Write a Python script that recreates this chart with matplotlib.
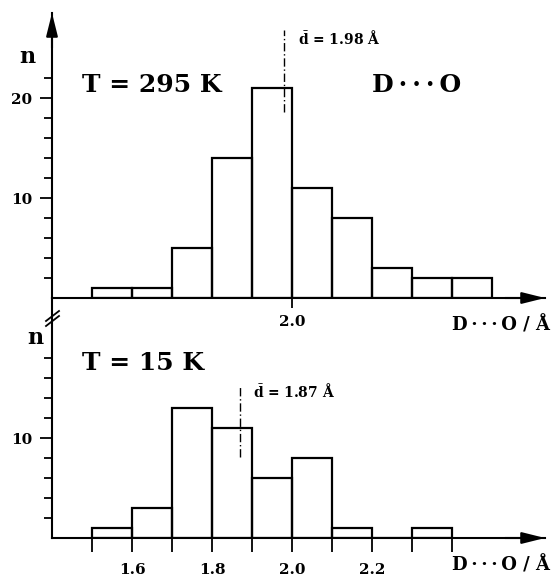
import numpy as np
import matplotlib
matplotlib.use("Agg")
from matplotlib import pyplot as plt

plt.rcParams['font.family'] = ['DejaVu Serif']
plt.rcParams['font.weight'] = 'bold'
plt.rcParams['mathtext.fontset'] = 'dejavuserif'

# bin left edges and counts, D...O distances in Angstrom
bins_295 = [1.5, 1.6, 1.7, 1.8, 1.9, 2.0, 2.1, 2.2, 2.3, 2.4]
n_295 = [1, 1, 5, 14, 21, 11, 8, 3, 2, 2]
mean_295 = 1.98

bins_15 = [1.5, 1.6, 1.7, 1.8, 1.9, 2.0, 2.1, 2.2, 2.3]
n_15 = [1, 3, 13, 11, 6, 8, 1, 0, 1]
mean_15 = 1.87

W, H = 553, 579
fig = plt.figure(figsize=(W / 100, H / 100), dpi=100)
fig.patch.set_facecolor('white')

def fx(px):
    return px / W

def fy(py):
    return 1 - py / H

def ptext(px, py, s, **kw):
    fig.text(fx(px), fy(py), s, **kw)

xl = (1.4, 1.4 + (545 - 52) / 400)
ax1 = fig.add_axes([fx(52), fy(298), (545 - 52) / W, (298 - 13) / H])
ax2 = fig.add_axes([fx(52), fy(538), (545 - 52) / W, (538 - 298) / H])

for ax in (ax1, ax2):
    ax.set_facecolor('none')
    for s in ('top', 'right'):
        ax.spines[s].set_visible(False)
    for s in ('left', 'bottom'):
        ax.spines[s].set_linewidth(1.5)
    ax.set_xlim(*xl)
    ax.tick_params(width=1.3, labelsize=11, pad=5)
    ax.tick_params(axis='y', which='major', length=9)
    ax.tick_params(axis='y', which='minor', length=6, width=1.3)

ax1.bar(bins_295, n_295, width=0.1, align='edge', fill=False,
        edgecolor='black', linewidth=1.6)
ax1.set_ylim(0, 28.5)
ax1.set_yticks([10, 20])
ax1.set_yticks(np.arange(2, 23, 2), minor=True)
ax1.set_xticks([2.0])
ax1.set_xticklabels(['2.0'])
ax1.tick_params(axis='x', direction='inout', length=14, pad=5)

ax2.bar(bins_15, n_15, width=0.1, align='edge', fill=False,
        edgecolor='black', linewidth=1.6)
ax2.set_ylim(0, 24)
ax2.set_yticks([10])
ax2.set_yticks(np.arange(2, 19, 2), minor=True)
ax2.set_xticks(np.arange(1.5, 2.45, 0.1))
ax2.set_xticklabels(['', '1.6', '', '1.8', '', '2.0', '', '2.2', '', ''])
ax2.tick_params(axis='x', length=10, pad=8)

# axis arrows
arr = dict(arrowstyle='-|>,head_length=1.4,head_width=0.35', color='black',
           lw=1.5, shrinkA=0, shrinkB=0)
ax1.annotate('', xy=(1.4, 28.5), xytext=(1.4, 25), arrowprops=arr,
             annotation_clip=False)
ax1.annotate('', xy=(xl[1], 0), xytext=(xl[1] - 0.1, 0), arrowprops=arr,
             annotation_clip=False)
ax2.annotate('', xy=(xl[1], 0), xytext=(xl[1] - 0.1, 0), arrowprops=arr,
             annotation_clip=False)

# mean lines
ax1.plot([mean_295, mean_295], [18.6, 26.8], color='black', lw=1,
         linestyle=(0, (6, 2, 1, 2)), clip_on=False)
ax2.plot([mean_15, mean_15], [8.1, 15.3], color='black', lw=1,
         linestyle=(0, (6, 2, 1, 2)), clip_on=False)

# axis break marks
for dy in (0, 5):
    fig.add_artist(plt.Line2D([fx(46), fx(59)], [fy(326 - dy), fy(316 - dy)],
                              color='black', lw=1.3))

dots = '\u2009\u00b7\u2009\u00b7\u2009\u00b7\u2009'
ptext(27, 57, 'n', fontsize=16, ha='center', va='center')
ptext(35, 338, 'n', fontsize=16, ha='center', va='center')
ptext(82, 92, 'T = 295 K', fontsize=18, va='baseline')
ptext(372, 92, 'D' + dots + 'O', fontsize=18, va='baseline')
ptext(298, 44, r'$\bar{\mathbf{d}}$ = 1.98 Å', fontsize=10, va='baseline')
ptext(82, 370, 'T = 15 K', fontsize=18, va='baseline')
ptext(253, 397, r'$\bar{\mathbf{d}}$ = 1.87 Å', fontsize=10, va='baseline')
ptext(550, 330, 'D' + dots + 'O / Å', fontsize=13, ha='right', va='baseline')
ptext(550, 570, 'D' + dots + 'O / Å', fontsize=13, ha='right', va='baseline')

fig.savefig('out.png', dpi=100, facecolor='white')
